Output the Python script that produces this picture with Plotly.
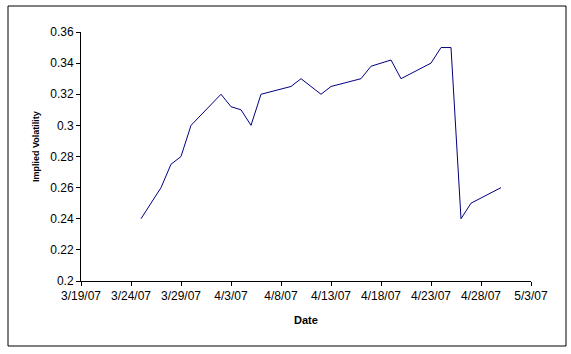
import plotly.graph_objects as go

dates = ["2007-03-25", "2007-03-27", "2007-03-28", "2007-03-29", "2007-03-30",
         "2007-04-02", "2007-04-03", "2007-04-04", "2007-04-05", "2007-04-06",
         "2007-04-09", "2007-04-10", "2007-04-12", "2007-04-13", "2007-04-16",
         "2007-04-17", "2007-04-19", "2007-04-20", "2007-04-23", "2007-04-24",
         "2007-04-25", "2007-04-26", "2007-04-27", "2007-04-30"]
implied_vol = [0.24, 0.26, 0.275, 0.28, 0.30,
               0.32, 0.312, 0.31, 0.30, 0.32,
               0.325, 0.33, 0.32, 0.325, 0.33,
               0.338, 0.342, 0.33, 0.34, 0.35,
               0.35, 0.24, 0.25, 0.26]

x_title = "Date"
y_title = "Implied Volatility"

W, H = 571, 354
L, R, T, B = 81, 40, 32, 73
pw, ph = W - L - R, H - T - B

fig = go.Figure()
fig.add_trace(go.Scatter(x=dates, y=implied_vol, mode="lines",
                         line=dict(color="#000080", width=1)))

family = "Arial, Liberation Sans, sans-serif"
tickfont = dict(family=family, size=12, color="black")
titlefont = dict(family=family, size=11, color="black")
ytitlefont = dict(family=family, size=9, color="black")

fig.update_layout(
    width=W, height=H,
    margin=dict(l=L, r=R, t=T, b=B),
    paper_bgcolor="white", plot_bgcolor="white",
    showlegend=False,
    font=tickfont,
    xaxis=dict(
        type="date",
        range=["2007-03-19", "2007-05-03"],
        tick0="2007-03-19", dtick=5 * 86400000,
        tickformat="%-m/%-d/%y",
        showgrid=False, zeroline=False,
        showline=True, linecolor="black", linewidth=1,
        ticks="outside", ticklen=4, tickcolor="black", tickwidth=1,
        tickfont=tickfont,
    ),
    yaxis=dict(
        range=[0.2, 0.36], dtick=0.02, tick0=0.2,
        showgrid=False, zeroline=False,
        showline=True, linecolor="black", linewidth=1,
        ticks="outside", ticklen=4, tickcolor="black", tickwidth=1,
        tickfont=tickfont,
    ),
    annotations=[
        dict(text="<b>" + x_title + "</b>", xref="paper", yref="paper",
             x=0.5, y=(T + ph - 320) / ph, xanchor="center", yanchor="middle",
             showarrow=False, font=titlefont),
        dict(text="<b>" + y_title + "</b>", xref="paper", yref="paper",
             x=(36 - L) / pw, y=(T + ph - 147) / ph,
             xanchor="center", yanchor="middle",
             textangle=-90, showarrow=False, font=ytitlefont),
    ],
    shapes=[
        dict(type="rect", xref="paper", yref="paper",
             x0=(8 - L) / pw, x1=(566 - L) / pw,
             y0=(T + ph - 346) / ph, y1=(T + ph - 6) / ph,
             line=dict(color="black", width=1), fillcolor="rgba(0,0,0,0)",
             layer="below"),
    ],
)

fig.write_html("out.html")
